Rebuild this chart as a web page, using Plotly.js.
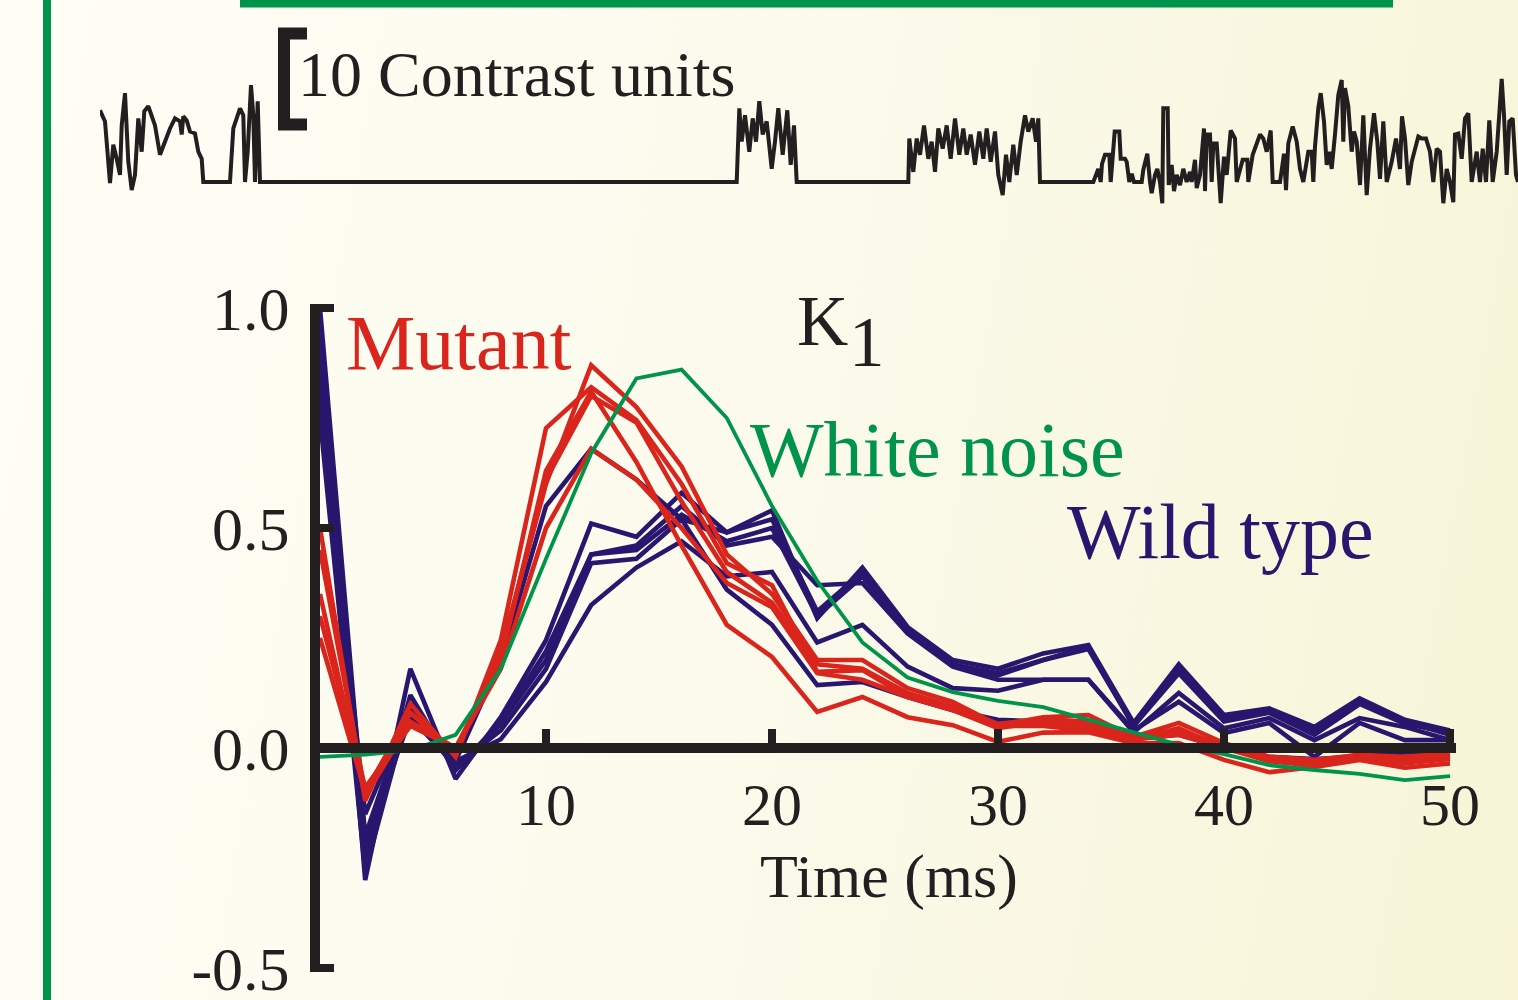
<!DOCTYPE html>
<html>
<head>
<meta charset="utf-8">
<script src="https://cdn.plot.ly/plotly-3.0.1.min.js"></script>
<style>
  html, body { margin:0; padding:0; }
  body { width:1518px; height:1000px; overflow:hidden;
         background: linear-gradient(100deg, #FEFEF6 0%, #FBFAEC 50%, #F7F5D6 100%); }
  #chart { width:1518px; height:1000px; }
</style>
</head>
<body>
<div id="chart"></div>
<script>
// ---------- Kernel K1 data (time in ms, normalised amplitude) ----------
const timeMs = [0,2,4,6,8,10,12,14,16,18,20,22,24,26,28,30,32,34,36,38,40,42,44,46,48,50];

const whiteNoise = [-0.02,-0.015,-0.005,0.03,0.18,0.43,0.67,0.84,0.86,0.75,0.55,0.38,0.24,0.16,0.127,0.107,0.093,0.064,0.034,0.007,-0.014,-0.039,-0.05,-0.059,-0.073,-0.064];

const mutant1 = [0.45,-0.10,0.08,-0.01,0.22,0.60,0.87,0.775,0.64,0.44,0.35,0.20,0.20,0.136,0.105,0.052,0.07,0.075,0.025,0.057,0.011,-0.02,-0.027,-0.016,-0.02,-0.012];
const mutant2 = [0.50,-0.12,0.10,-0.02,0.245,0.727,0.82,0.745,0.60,0.42,0.37,0.173,0.177,0.116,0.086,0.045,0.06,0.05,0.02,0.03,0.0,-0.03,-0.035,-0.02,-0.03,-0.02];
const mutant3 = [0.35,-0.11,0.06,0.0,0.20,0.63,0.81,0.65,0.46,0.28,0.207,0.082,0.116,0.07,0.052,0.014,0.035,0.036,0.011,0.011,-0.027,-0.055,-0.043,-0.027,-0.045,-0.035];
const mutant4 = [0.30,-0.09,0.05,0.0,0.18,0.50,0.68,0.61,0.50,0.375,0.32,0.17,0.155,0.116,0.086,0.05,0.05,0.04,0.02,0.04,0.005,-0.03,-0.04,-0.02,-0.035,-0.025];
const mutant5 = [0.25,-0.10,0.08,-0.01,0.21,0.61,0.80,0.74,0.56,0.40,0.33,0.19,0.18,0.125,0.095,0.055,0.065,0.06,0.02,0.045,0.0,-0.025,-0.03,-0.015,-0.025,-0.015];

const wild1 = [1.00,-0.20,0.10,-0.03,0.20,0.55,0.68,0.61,0.52,0.36,0.28,0.143,0.15,0.116,0.086,0.064,0.06,0.05,0.02,0.03,0.0,-0.02,-0.025,-0.02,-0.01,-0.01];
const wild2 = [0.95,-0.30,0.18,-0.07,0.07,0.245,0.51,0.48,0.58,0.49,0.54,0.295,0.41,0.275,0.20,0.18,0.215,0.234,0.057,0.19,0.075,0.09,0.048,0.113,0.064,0.04];
const wild3 = [0.90,-0.25,0.12,-0.05,0.055,0.20,0.44,0.46,0.55,0.46,0.48,0.37,0.375,0.26,0.185,0.155,0.155,0.155,0.036,0.125,0.045,0.068,0.018,0.068,0.048,0.018];
const wild4 = [0.85,-0.22,0.07,-0.04,0.04,0.18,0.42,0.43,0.52,0.49,0.52,0.31,0.40,0.27,0.19,0.165,0.20,0.225,0.05,0.18,0.07,0.085,0.04,0.105,0.06,0.03];
const wild5 = [0.80,-0.15,0.09,-0.03,0.02,0.15,0.325,0.41,0.47,0.39,0.40,0.24,0.28,0.185,0.136,0.13,0.155,0.155,0.04,0.105,0.034,0.057,-0.02,0.057,0.018,0.018];
const wild6 = [0.75,-0.28,0.10,-0.05,0.06,0.22,0.44,0.45,0.53,0.47,0.50,0.30,0.39,0.27,0.19,0.17,0.20,0.23,0.05,0.17,0.06,0.08,0.03,0.10,0.055,0.035];

const xTickVals = [10,20,30,40,50];
const xTickText = ['10','20','30','40','50'];
const yTickVals = [-0.5,0,0.5,1.0];
const yTickText = ['-0.5','0.0','0.5','1.0'];

// ---------- Stimulus (contrast) trace ----------
const stimTime = [0,5,10,13.3,16.7,20,21.7,25,28.3,31.7,35,38.3,41.7,44.3,48.3,51.7,55,60,65,70,75,80,81.7,83.3,86.7,90,95,98.3,101.7,103.3,130,133.3,140,143.3,145,147.7,151,153.3,155,157.7,160,
 636.7,639.3,641.7,645,649.3,652.7,656,659.3,662.7,666.7,671.7,675,678.3,682.7,687.3,690.7,694,696.7,
 808.3,809.3,813.3,816.7,820,824,828.3,831.7,835,838.3,842.7,846.7,850.7,855,859.3,863.3,866.7,870.7,875,879.3,883.3,886.7,890.7,895,898.3,902.7,906,909.3,913.3,916.7,920.7,925,928.3,932.7,936,938.3,940,
 993.3,998.3,1000.7,1002,1005,1009.3,1010.7,1014.7,1019.3,1020.7,1025,1026.7,1029.3,1031.7,1034,1041.7,1043.3,1047.3,1050,1051.7,1055,1057.3,1060,1062.3,1063.3,1067.7,1068.7,1071.7,1074,1076.7,1080,1083.3,1086.7,1090,1091.7,1095,1096.7,1100,1104,1105,1106.7,1110,1111.7,1113.3,1116.7,1118.3,1120.7,1124,1126.7,1130.7,1135,1136.7,1142.7,1147.3,1148.3,1152.7,1156,1160,1163.3,1166.7,1170.7,1172.7,1180,1184,1186,1188.3,1192.7,1196.7,1200,1203.3,1208.3,1211.7,1213.3,
 1215,1218.3,1220.7,1224,1226.7,1229.3,1231.7,1235,1238.3,1241.7,1243.3,1245,1248.3,1251.7,1254,1256.7,1260,1263.3,1266.7,1270,1274,1277.3,1280,1283.3,1286.7,1291.7,1296,1300,1302,1305,1308.3,1311.7,1315,1318.3,1321.7,1326,1330,1333.3,1336.7,1340,1343.3,1346.7,1350,1353.3,1355,1358.3,1361.7,1365,1368.3,1371.7,1376.7,1380,1382.7,1386,1389.3,1392.7,1396.7,1399.3,1401.7,1404,1406.7,1409.3,1412.7,1416,1418];
const stimContrast = [7.1,6.0,-0.1,3.7,2.3,0.7,5.6,8.8,2.0,-0.8,0.7,6.3,3.0,7.0,7.5,6.5,5.6,2.7,4.0,5.3,6.3,6.0,4.7,6.5,6.1,5.0,4.8,3.0,2.3,0,0,5.3,7.3,6.6,0,3.0,9.6,6.6,0,8.0,0,
 0,7.3,4.0,6.6,3.0,6.3,4.0,8.0,4.7,6.0,1.3,4.0,7.3,2.7,7.1,1.7,5.6,0,
 0,4.3,1.0,4.3,2.7,5.6,2.3,4.0,1.0,5.3,3.3,5.6,2.3,6.3,2.7,5.3,2.7,4.7,1.7,5.0,2.3,5.3,2.0,5.0,0.7,-1.3,2.7,0,3.7,0.7,4.0,6.6,5.0,6.3,4.0,6.3,0,
 0,1.3,0,1.8,2.7,2.7,0,5.0,5.0,2.3,2.3,2.0,0,0.8,0,0,1.2,2.8,0,-1.1,0.7,1.3,0,-2.1,7.3,7.3,-0.3,1.7,-0.9,0.7,-0.3,1.3,0,1.0,0,2.2,-0.6,0.7,5.3,-0.9,4.7,4.7,0,3.8,3.8,0.7,-2.1,2.5,0.7,5.1,4.3,0,2.2,2.2,0,2.7,3.7,4.7,4.3,3.0,5.1,0,0,2.8,-0.8,3.8,5.5,4.0,1.3,0,3.0,3.0,0,
 3.5,7.3,8.8,6.0,1.7,3.0,1.3,4.7,8.6,10.1,4.0,9.3,7.5,3.0,5.0,4.0,-0.3,6.6,-1.3,3.3,6.8,4.0,0.3,6.0,0,2.0,4.3,1.3,6.5,4.3,-0.3,2.0,3.3,4.5,4.3,4.3,3.0,0,3.3,3.0,-2.1,1.3,0,-2.0,4.7,4.8,2.3,6.3,6.8,0,3.0,0,3.3,0,6.1,0,3.0,6.6,10.2,6.6,0.7,6.0,6.3,0.7,0];

// scale bar (contrast units on stimulus axis)
const scaleBarTime = 184, scaleBarEnd = 207;
const scaleBarBottom = 5.7, scaleBarTop = 14.7;

// ---------- Styling ----------
const FONT = '"Liberation Serif", "Times New Roman", Times, serif';
const INK = '#231F20';
const RED = '#DA251D';
const BLUE = '#28166F';
const GREEN = '#00934A';

const traces = [];
traces.push({x: stimTime, y: stimContrast, xaxis:'x2', yaxis:'y2', type:'scatter', mode:'lines',
             line:{color:INK, width:4}, hoverinfo:'skip'});
[wild1, wild2, wild3, wild4, wild5, wild6].forEach(w => traces.push({
  x: timeMs, y: w, type:'scatter', mode:'lines', line:{color:BLUE, width:4.6}, hoverinfo:'skip'}));
[mutant1, mutant2, mutant3, mutant4, mutant5].forEach(m => traces.push({
  x: timeMs, y: m, type:'scatter', mode:'lines', line:{color:RED, width:4.6}, hoverinfo:'skip'}));
traces.push({x: timeMs, y: whiteNoise, type:'scatter', mode:'lines', line:{color:GREEN, width:3.8}, hoverinfo:'skip'});

const W = 1518, H = 1000;
const px = v => v / W;           // helper for paper x
const py = v => 1 - v / H;       // helper for paper y

// y: 440 px per unit, 0 at 748 px; x: 22.6 px per ms, 0 at 320 px
const yRange = [-0.51, 1.01];
const yDom = [py(748 - yRange[0]*440), py(748 - yRange[1]*440)];
const zeroPaper = yDom[0] + (yDom[1]-yDom[0]) * (0 - yRange[0]) / (yRange[1]-yRange[0]);
const xRange = [0, 50.25];
const xDom = [px(320), px(320 + xRange[1]*22.6)];

const layout = {
  width: W, height: H,
  margin: {l:0, r:0, t:0, b:0},
  paper_bgcolor: 'rgba(0,0,0,0)',
  plot_bgcolor: 'rgba(0,0,0,0)',
  showlegend: false,
  font: {family: FONT, color: INK},
  xaxis: {
    domain: xDom, range: xRange,
    anchor: 'free', position: zeroPaper,
    showgrid: false, zeroline: false,
    showline: true, linecolor: INK, linewidth: 10,
    ticks: 'inside', ticklen: 14, tickwidth: 8, tickcolor: INK,
    tickvals: xTickVals, ticktext: xTickText,
    tickfont: {family: FONT, size: 60, color: INK},
    ticklabelstandoff: 0, ticklabeloverflow: 'allow'
  },
  yaxis: {
    domain: yDom, range: yRange,
    anchor: 'x',
    showgrid: false, zeroline: false,
    showline: true, linecolor: INK, linewidth: 10,
    ticks: 'inside', ticklen: 14, tickwidth: 8, tickcolor: INK,
    tickvals: yTickVals, ticktext: yTickText,
    tickfont: {family: FONT, size: 62, color: INK},
    ticklabelstandoff: 8, ticklabeloverflow: 'allow'
  },
  xaxis2: {domain: [px(100), 1], range: [0, 1418], anchor: 'y2',
           visible: false, showgrid: false, zeroline: false},
  yaxis2: {domain: [py(225), py(15)], range: [(182-225)/10.1, (182-15)/10.1], anchor: 'x2',
           visible: false, showgrid: false, zeroline: false},
  shapes: [
    {type:'line', xref:'paper', yref:'paper', x0: px(47), x1: px(47), y0: 0, y1: 1,
     line:{color: GREEN, width: 8}},
    {type:'line', xref:'paper', yref:'paper', x0: px(240), x1: px(1393), y0: py(3.5), y1: py(3.5),
     line:{color: GREEN, width: 8}},
    {type:'path', xref:'x2', yref:'y2',
     path: `M ${scaleBarEnd},${scaleBarTop} L ${scaleBarTime},${scaleBarTop} L ${scaleBarTime},${scaleBarBottom} L ${scaleBarEnd},${scaleBarBottom}`,
     line:{color: INK, width: 12}}
  ],
  annotations: [
    {text:'10 Contrast units', xref:'paper', yref:'paper', x: px(296), y: py(75), xanchor:'left', yanchor:'middle',
     showarrow:false, font:{family:FONT, size:64, color:INK}},
    {text:'Mutant', xref:'paper', yref:'paper', x: px(344), y: py(342), xanchor:'left', yanchor:'middle',
     showarrow:false, font:{family:FONT, size:78, color:RED}},
    {text:'K', xref:'paper', yref:'paper', x: px(795), y: py(321), xanchor:'left', yanchor:'middle',
     showarrow:false, font:{family:FONT, size:71, color:INK}},
    {text:'1', xref:'paper', yref:'paper', x: px(847), y: py(342), xanchor:'left', yanchor:'middle',
     showarrow:false, font:{family:FONT, size:71, color:INK}},
    {text:'White noise', xref:'paper', yref:'paper', x: px(748), y: py(449), xanchor:'left', yanchor:'middle',
     showarrow:false, font:{family:FONT, size:78, color:GREEN}},
    {text:'Wild type', xref:'paper', yref:'paper', x: px(1065), y: py(531), xanchor:'left', yanchor:'middle',
     showarrow:false, font:{family:FONT, size:78, color:BLUE}},
    {text:'Time (ms)', xref:'paper', yref:'paper', x: px(889), y: py(876), xanchor:'center', yanchor:'middle',
     showarrow:false, font:{family:FONT, size:62, color:INK}}
  ]
};

Plotly.newPlot('chart', traces, layout, {staticPlot: true, displayModeBar: false});
</script>
</body>
</html>
